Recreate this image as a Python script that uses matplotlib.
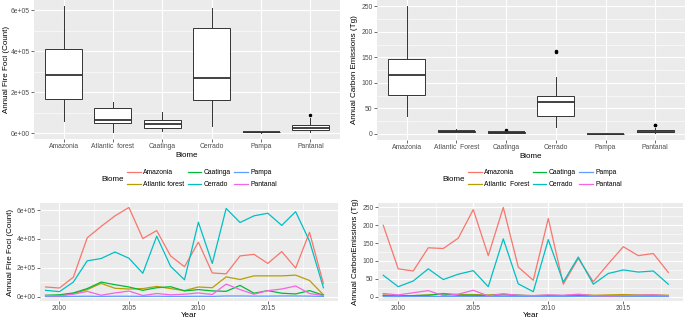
import matplotlib
matplotlib.use("Agg")
import matplotlib.pyplot as plt
import numpy as np
from matplotlib.lines import Line2D
from matplotlib.ticker import FixedLocator

plt.rcParams['font.family'] = ['Liberation Sans', 'DejaVu Sans']

# ---- data ----
biomes = ["Amazonia", "Atlantic forest", "Caatinga", "Cerrado", "Pampa", "Pantanal"]
biome_ticks_fire = ["Amazonia", "Atlantic  forest", "Caatinga", "Cerrado", "Pampa", "Pantanal"]
biome_ticks_em = ["Amazonia", "Atlantic  Forest", "Caatinga", "Cerrado", "Pampa", "Pantanal"]
legend_em = ["Amazonia", "Atlantic  Forest", "Caatinga", "Cerrado", "Pampa", "Pantanal"]
colors = ["#F8766D", "#B79F00", "#00BA38", "#00BFC4", "#619CFF", "#F564E3"]

years_fire = list(range(1999, 2020))
# annual fire foci, thousands
amazonia_fire = [68, 61, 136, 408, 487, 560, 618, 403, 458, 283, 208, 378, 165, 159, 283, 294, 231, 313, 199, 446, 91]
atlantic_fire = [7, 9, 23, 50, 93, 59, 54, 57, 72, 57, 43, 68, 63, 138, 120, 145, 145, 145, 150, 113, 14]
caatinga_fire = [11, 14, 27, 57, 102, 84, 68, 45, 63, 70, 41, 50, 41, 38, 79, 25, 43, 25, 20, 43, 11]
cerrado_fire = [45, 36, 102, 249, 265, 310, 267, 163, 419, 211, 118, 516, 231, 611, 514, 560, 578, 494, 589, 385, 63]
pampa_fire = [2, 2, 3, 4, 3, 4, 4, 3, 4, 3, 3, 4, 3, 6, 6, 5, 5, 6, 6, 5, 3]
pantanal_fire = [9, 7, 18, 38, 11, 27, 40, 9, 23, 14, 18, 27, 16, 88, 50, 18, 43, 54, 75, 23, 9]

years_em = list(range(1999, 2019))
# annual carbon emissions, Tg
amazonia_em = [200, 78, 72, 137, 135, 164, 244, 115, 250, 83, 46, 219, 35, 107, 42, 92, 140, 115, 121, 68]
atlantic_em = [5, 3, 3, 5, 9, 6, 6, 5, 7, 4, 3, 4, 3, 6, 4, 5, 6, 5, 5, 4]
caatinga_em = [3, 2, 3, 4, 7.5, 4, 4, 3, 5, 4, 2, 3, 2, 3, 3, 2, 3, 2, 2, 2]
cerrado_em = [60, 28, 44, 78, 48, 63, 73, 28, 162, 36, 14, 160, 41, 111, 35, 65, 75, 69, 72, 35]
pampa_em = [0.5, 0.4, 0.5, 0.6, 0.5, 0.6, 0.7, 0.5, 0.6, 0.5, 0.5, 0.6, 0.5, 0.8, 0.7, 0.6, 0.6, 0.7, 0.7, 0.6]
pantanal_em = [9, 5, 11, 17, 3, 7, 18, 2, 8, 4, 3, 5, 4, 7, 3, 2, 3, 4, 5, 3]

fire = [np.array(s) * 1000 for s in [amazonia_fire, atlantic_fire, caatinga_fire, cerrado_fire, pampa_fire, pantanal_fire]]
emis = [np.array(s, dtype=float) for s in [amazonia_em, atlantic_em, caatinga_em, cerrado_em, pampa_em, pantanal_em]]

W, H = 685, 321
fig = plt.figure(figsize=(W / 100, H / 100), dpi=100)

def box(l, t, r, b):
    return [l / W, 1 - b / H, (r - l) / W, (b - t) / H]

TICK = 4.9
TITLE = 5.8

def style(ax):
    ax.set_facecolor("#EBEBEB")
    for s in ax.spines.values():
        s.set_visible(False)
    ax.grid(which="major", color="white", lw=0.8)
    ax.grid(which="minor", color="white", lw=0.4)
    ax.set_axisbelow(True)
    ax.tick_params(which="major", length=2, width=0.5, color="#333333", labelsize=TICK,
                   labelcolor="#4D4D4D", pad=1.2)
    ax.tick_params(which="minor", length=0)

def sci(v, pos=None):
    if v == 0:
        return "0e+00"
    e = int(np.floor(np.log10(abs(v))))
    return "%de+%02d" % (round(v / 10 ** e), e)

def boxpanel(ax, data, ticks, ylabel, yticks, ypad=2):
    style(ax)
    pos = np.arange(1, 7)
    ax.boxplot(data, positions=pos, widths=0.75, patch_artist=True,
               boxprops=dict(facecolor="white", edgecolor="#333333", lw=0.7),
               medianprops=dict(color="#333333", lw=1.3),
               whiskerprops=dict(color="#333333", lw=0.7),
               capprops=dict(lw=0),
               flierprops=dict(marker="o", ms=1.5, mfc="black", mec="black"))
    ax.set_xlim(0.4, 6.6)
    lo = min(d.min() for d in data)
    hi = max(d.max() for d in data)
    ax.set_ylim(lo - 0.05 * (hi - lo), hi + 0.05 * (hi - lo))
    ax.xaxis.set_major_locator(FixedLocator(pos))
    ax.set_xticklabels(ticks)
    ax.yaxis.set_major_locator(FixedLocator(yticks))
    ax.yaxis.set_minor_locator(FixedLocator(np.array(yticks[:-1]) + (yticks[1] - yticks[0]) / 2))
    ax.set_xlabel("Biome", fontsize=TITLE, labelpad=1)
    ax.set_ylabel(ylabel, fontsize=TITLE, labelpad=ypad)

def linepanel(ax, years, data, ylabel, yticks, xlim):
    style(ax)
    for d, c in zip(data, colors):
        ax.plot(years, d, color=c, lw=0.9)
    lo = min(d.min() for d in data)
    hi = max(d.max() for d in data)
    ax.set_ylim(lo - 0.05 * (hi - lo), hi + 0.05 * (hi - lo))
    ax.set_xlim(*xlim)
    ax.xaxis.set_major_locator(FixedLocator([2000, 2005, 2010, 2015]))
    ax.xaxis.set_minor_locator(FixedLocator([2002.5, 2007.5, 2012.5, 2017.5]))
    ax.yaxis.set_major_locator(FixedLocator(yticks))
    ax.yaxis.set_minor_locator(FixedLocator(np.array(yticks[:-1]) + (yticks[1] - yticks[0]) / 2))
    ax.set_xlabel("Year", fontsize=TITLE, labelpad=0)
    ax.set_ylabel(ylabel, fontsize=TITLE, labelpad=2)

def legend(x_title, y_title, x_key, y_top, labels):
    handles = [Line2D([], [], color=c, lw=0.9) for c in colors]
    fig.text(x_title / W, 1 - y_title / H, "Biome", fontsize=TITLE, va="center", ha="left")
    fig.legend(handles, labels, ncol=3, loc="upper left", bbox_to_anchor=(x_key / W, 1 - y_top / H),
               frameon=False, fontsize=TICK, handlelength=2.0, handletextpad=0.35,
               columnspacing=0.5, labelspacing=0.8, borderpad=0, borderaxespad=0)

ax1 = fig.add_axes(box(34, 0, 340, 139))
boxpanel(ax1, fire, biome_ticks_fire, "Annual Fire Foci (Count)", [0, 200000, 400000, 600000], ypad=0.5)
ax1.yaxis.set_major_formatter(sci)

ax2 = fig.add_axes(box(377, 0, 685, 140))
boxpanel(ax2, emis, biome_ticks_em, "Annual Carbon Emissions (Tg)", [0, 50, 100, 150, 200, 250])

ax3 = fig.add_axes(box(40, 203, 338, 301))
linepanel(ax3, years_fire, fire, "Annual Fire Foci (Count)", [0, 200000, 400000, 600000],
          (1998.6, 2020.05))
ax3.yaxis.set_major_formatter(sci)

ax4 = fig.add_axes(box(378, 203, 683, 301))
linepanel(ax4, years_em, emis, "Annual CarbonEmissions (Tg)", [0, 50, 100, 150, 200, 250],
          (1998.65, 2018.98))

legend(101, 180, 127, 169, biomes)
legend(442, 180, 468, 169, legend_em)

fig.savefig("out.png", dpi=100)
